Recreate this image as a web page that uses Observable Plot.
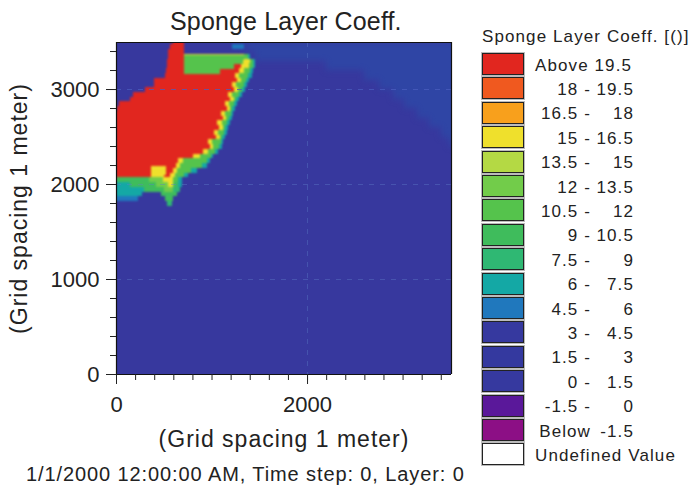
<!DOCTYPE html>
<html><head><meta charset="utf-8">
<script src="https://cdn.jsdelivr.net/npm/d3@7"></script>
<script src="https://cdn.jsdelivr.net/npm/@observablehq/plot@0.6"></script>
<style>
html,body{margin:0;padding:0;background:#fff}
#wrap{position:relative;width:692px;height:490px;overflow:hidden;font-family:"Liberation Sans",Arial,sans-serif;color:#222}
#wrap svg{position:absolute;left:0;top:0}
#wrap g[aria-label="x-axis label"] text,#wrap g[aria-label="y-axis label"] text{font-size:23px;letter-spacing:1px}
.t{position:absolute;white-space:pre}
.sw{position:absolute;left:482px;width:40px;height:20px;border:1px solid #222;outline:1px solid #bbb}
</style></head><body><div id="wrap"></div>
<script>
const legendLabels=[["Above 19.5"],["18 -","19.5"],["16.5 -","18"],["15 -","16.5"],["13.5 -","15"],["12 -","13.5"],["10.5 -","12"],["9 -","10.5"],["7.5 -","9"],["6 -","7.5"],["4.5 -","6"],["3 -","4.5"],["1.5 -","3"],["0 -","1.5"],["-1.5 -","0"],["Below","-1.5"],["Undefined Value"]];
const legendColors=["#e1261f","#f0591f","#f8a01c","#efe02c","#b4d944","#72cc4a","#55c34c","#3fbc5c","#2fb873","#14a8a5","#2078bd","#36399f","#34399f","#36399f","#5a189a","#8c0f85","#ffffff"];
const bandThresholds=[-1.5,0,1.5,3,4.5,6,7.5,9,10.5,12,13.5,15,16.5,18,19.5];
const bandColors=legendColors.slice(0,16).reverse();

// row bottoms (grid metres), from the top of the domain down
const rowBase=[3470,3420,3370,3320,3270,3220,3170,3120,3070,3020,2970,2920,2870,2820,2770,2720,2670,2620,2570,2520,2470,2420,2370,2320,2270,2220,2170,2120,2070];
const redStart=[600,570,548,548,535,530,520,510,400,395,300,178,150,35,10,0,0,0,0,0,0,0,0,0,0,0,0,0,0];
const redEnd=[712,712,712,712,1320,1310,1285,1250,1270,1215,1235,1170,1190,1140,1160,1095,1115,1060,1075,1030,1045,960,985,915,810,653,628,600,565];
const yellowEnd=[712,712,712,1345,1400,1395,1335,1290,1310,1255,1275,1210,1235,1180,1195,1145,1150,1105,1115,1065,1085,1010,1020,965,880,705,670,640,618];
const greenEnd=[712,712,712,1385,1430,1435,1400,1385,1360,1335,1315,1285,1260,1235,1215,1200,1180,1165,1145,1130,1110,1095,1080,1040,990,950,900,790,710];
const tealEnd=[712,712,712,1400,1455,1460,1435,1420,1395,1368,1350,1316,1290,1263,1245,1228,1210,1193,1175,1158,1140,1124,1110,1071,1019,985,949,845,757];

// green patch, orange notch, teal spot: [row bottom, x1, x2, value]
const patches=[[3310,712,1340,11],[3260,712,1333,11],[3210,712,1240,11],[3160,712,1090,11],[2140,365,525,16],[2090,365,520,15],[2070,365,500,16],[3420,1210,1340,5]];
// lower-left shelf and tip: [row bottom, x1, x2, value]
const shelf=[[2020,0,350,9],[2020,350,490,13],[2020,490,593,15],[2020,593,650,11],[2020,650,688,7],
 [1970,0,150,7],[1970,150,420,9],[1970,420,540,13],[1970,540,600,15],[1970,600,650,10],[1970,650,690,7],
 [1920,0,290,7],[1920,290,500,9],[1920,500,600,12],[1920,600,670,8],
 [1870,0,270,7],[1870,470,640,10],
 [1820,0,230,5],[1820,510,600,10],
 [1770,530,590,8]];
// lighter blue beyond the arc in the upper right: [row bottom, x start]
const arcRows=[[3400,1350],[3300,1450],[3200,2200],[3100,2600],[3000,2750],[2900,2900],[2800,3020],[2700,3150],[2600,3280],[2500,3400],[2400,3490]];

const step=50;
const cells=[];
rowBase.forEach((y,i)=>{
  cells.push({y,x1:redStart[i],x2:tealEnd[i],v:7,o:1});
  cells.push({y,x1:redStart[i],x2:greenEnd[i],v:11,o:2});
  cells.push({y,x1:redStart[i],x2:yellowEnd[i],v:15,o:3});
  cells.push({y,x1:redStart[i],x2:redEnd[i],v:20,o:4});
});
patches.forEach(([y,x1,x2,v])=>cells.push({y,x1,x2,v,o:5}));
shelf.forEach(([y,x1,x2,v])=>cells.push({y,x1,x2,v,o:1}));
const xDomain=[0,3507], yDomain=[0,3495];

const plot=Plot.plot({
  width:692,height:490,marginLeft:116,marginRight:241,marginTop:42,marginBottom:116,
  style:{background:"transparent",fontFamily:'"Liberation Sans",Arial,sans-serif',color:"#222"},
  x:{domain:xDomain},y:{domain:yDomain},
  color:{type:"threshold",domain:bandThresholds,range:bandColors},
  marks:[
    Plot.rect([0],{x1:0,x2:3507,y1:0,y2:3495,fill:()=>"#37389e"}),
    Plot.rect(arcRows,{x1:d=>d[1],x2:3600,y1:d=>d[0],y2:d=>d[0]+100,fill:()=>"#2f45a5",imageFilter:"blur(3px)",clip:true,shapeRendering:"crispEdges"}),
    Plot.rect(cells,{x1:"x1",x2:"x2",y1:"y",y2:d=>d.y+step,fill:"v",sort:"o",imageFilter:"blur(1px)",clip:true,shapeRendering:"crispEdges"}),
    Plot.ruleY([1000,2000],{stroke:"#5f7fc8",strokeOpacity:.4,strokeDasharray:"5,6"}),
    Plot.ruleY([3000],{stroke:"#4b5fc0",strokeOpacity:.75,strokeDasharray:"5,6"}),
    Plot.ruleX([2000],{stroke:"#5f7fc8",strokeOpacity:.4,strokeDasharray:"5,6"}),
    Plot.ruleX([0,3507],{stroke:"#111",strokeWidth:1.2}),
    Plot.ruleY([0,3495],{stroke:"#111",strokeWidth:1.2}),
    Plot.axisX(d3.range(0,3507,200),{tickSize:6,tickFormat:()=>"",label:null,stroke:"#222"}),
    Plot.axisX([0,2000],{tickSize:10,tickPadding:12,tickFormat:"d",fontSize:22,label:"(Grid spacing 1 meter)",labelAnchor:"center",labelArrow:"none",labelOffset:72,stroke:"#222",fill:"#222"}),
    Plot.axisY(d3.range(0,3495,200),{tickSize:6,tickFormat:()=>"",label:null,stroke:"#222"}),
    Plot.axisY([0,1000,2000,3000],{tickSize:10,tickPadding:7,tickFormat:"d",fontSize:22,label:"(Grid spacing 1 meter)",labelAnchor:"center",labelArrow:"none",labelOffset:106,stroke:"#222",fill:"#222"})
  ]
});
const wrap=document.getElementById("wrap");
wrap.appendChild(plot);
function text(s,css){const d=document.createElement("div");d.className="t";d.textContent=s;d.style.cssText+=css;wrap.appendChild(d);return d;}
text("Sponge Layer Coeff.","left:170px;top:7px;font-size:25px;letter-spacing:.15px;");
text("1/1/2000 12:00:00 AM, Time step: 0, Layer: 0","left:26px;top:463px;font-size:20px;letter-spacing:.9px;");
text("Sponge Layer Coeff. [()]","left:482px;top:27px;font-size:17px;letter-spacing:1.1px;");
legendLabels.forEach((l,i)=>{
  const top=53+i*24.4;
  const s=document.createElement("div");s.className="sw";s.style.top=top+"px";s.style.background=legendColors[i];wrap.appendChild(s);
  const f=`top:${top+2.5}px;font-size:17px;letter-spacing:1.1px;`;
  if(l.length===1){text(l[0],`left:535px;`+f);}
  else{
    text(l[0],`right:${692-591}px;`+f);
    text(l[1],`right:${692-634}px;`+f);
  }
});
</script></body></html>
